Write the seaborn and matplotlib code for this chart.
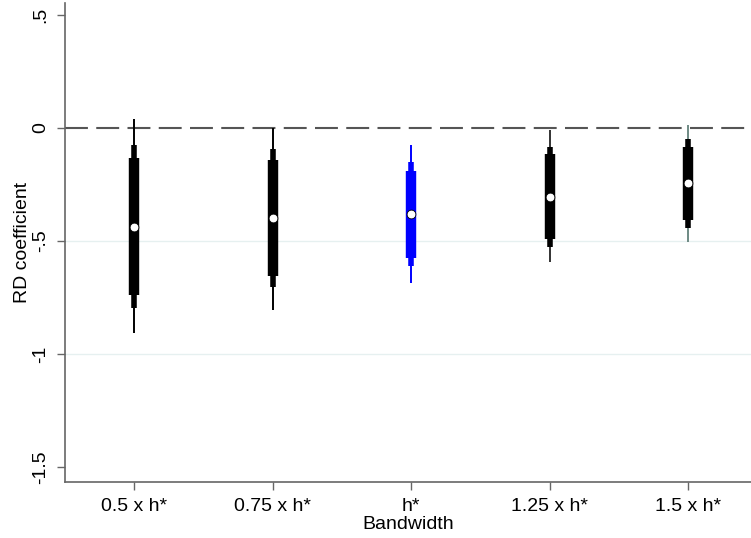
import matplotlib
matplotlib.use("Agg")
import matplotlib.pyplot as plt
import seaborn as sns
import pandas as pd
import numpy as np

categories = ["0.5 x h*", "0.75 x h*", "h*", "1.25 x h*", "1.5 x h*"]
coef = [-0.437, -0.398, -0.382, -0.304, -0.245]
ci99_lo = [-0.907, -0.803, -0.687, -0.592, -0.503]
ci99_hi = [0.038, 0.001, -0.075, -0.009, 0.013]
ci95_lo = [-0.797, -0.705, -0.611, -0.525, -0.444]
ci95_hi = [-0.075, -0.094, -0.150, -0.083, -0.050]
ci90_lo = [-0.739, -0.653, -0.576, -0.491, -0.407]
ci90_hi = [-0.134, -0.142, -0.189, -0.117, -0.083]
colors = ["black", "black", "#0000ff", "black", "black"]
thin_colors = ["black", "black", "#0000ff", "#333333", "#6e8a84"]

yticks = [0.5, 0, -0.5, -1, -1.5]
ytick_labels = [".5", "0", "-.5", "-1", "-1.5"]

df = pd.DataFrame({"cat": categories, "pos": np.arange(1, 6), "coef": coef,
                   "lo99": ci99_lo, "hi99": ci99_hi, "lo95": ci95_lo,
                   "hi95": ci95_hi, "lo90": ci90_lo, "hi90": ci90_hi})

sns.set_theme(style="white")
plt.rcParams["font.family"] = ["Liberation Sans", "DejaVu Sans"]
plt.rcParams["text.color"] = "black"
plt.rcParams["xtick.color"] = "black"
plt.rcParams["ytick.color"] = "black"
plt.rcParams["axes.labelcolor"] = "black"

fig = plt.figure(figsize=(7.51, 5.38), dpi=100)
ax = fig.add_axes([0.0866, 0.104, 0.9134, 0.8904])

# gridlines
for g in [-0.5, -1.0]:
    ax.axhline(g, color="#e6f0f0", lw=1.0, zorder=0)
ax.axhline(0, color="#555555", lw=1.5, dashes=(11, 4), zorder=1)

for i, r in df.iterrows():
    ax.vlines(r["pos"], r["lo99"], r["hi99"], color=thin_colors[i], lw=1.4, zorder=2)
    ax.vlines(r["pos"], r["lo95"], r["hi95"], color=colors[i], lw=4.0, zorder=3)
    ax.vlines(r["pos"], r["lo90"], r["hi90"], color=colors[i], lw=7.5, zorder=4)

sns.scatterplot(data=df, x="pos", y="coef", ax=ax, color="white", s=40,
                edgecolor="black", linewidth=0.6, zorder=5, legend=False)

ax.set_xlim(0.5, 5.455)
ax.set_ylim(-1.566, 0.553)
ax.set_xticks(df["pos"])
ax.set_xticklabels(categories, fontsize=14)
ax.set_yticks(yticks)
ax.set_yticklabels(ytick_labels, fontsize=14, rotation=90, va="center")
ax.tick_params(axis="both", which="both", length=5.5, width=1,
               direction="out", left=True, bottom=True, pad=6)
ax.tick_params(axis="x", colors="black", color="#666666")
ax.tick_params(axis="y", colors="black", color="#666666")
for s in ["top", "right"]:
    ax.spines[s].set_visible(False)
for s in ["left", "bottom"]:
    ax.spines[s].set_color("#666666")
    ax.spines[s].set_linewidth(1.2)

ax.set_xlabel("Bandwidth", fontsize=14, labelpad=1)
ax.set_ylabel("RD coefficient", fontsize=14, labelpad=1)

fig.savefig("out.png", dpi=100)
